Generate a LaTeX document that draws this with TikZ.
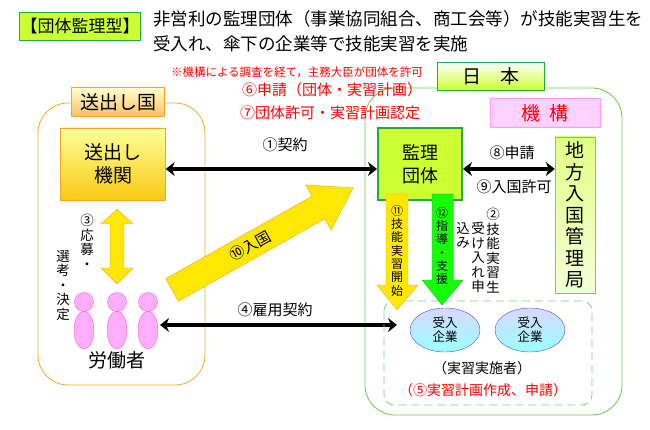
\documentclass[tikz,border=0pt]{standalone}
\usepackage{fontspec}
\setmainfont{Noto Sans CJK JP}
\usetikzlibrary{arrows.meta,shapes.geometric}
\definecolor{lime}{HTML}{CCFF33}
\definecolor{grn}{HTML}{22AA44}
\definecolor{org}{HTML}{F5A623}
\definecolor{pk}{HTML}{FF99FF}
\definecolor{rd}{HTML}{FF0000}
\begin{document}
\begin{tikzpicture}[x=1pt,y=-1pt,
  lbl/.style={font=\fontsize{15}{16}\selectfont,inner sep=0pt},
  red/.style={lbl,text=rd},
  vt/.style={font=\fontsize{13.5}{14.5}\selectfont,align=center,inner sep=0pt},
  blk/.style={line width=3.5pt,{Stealth[length=9pt,width=14pt]}-{Stealth[length=9pt,width=14pt]}},
  emp/.style={draw=blue!70,ellipse,shading=axis,top color=blue!15,bottom color=cyan!40,minimum width=70pt,minimum height=44pt,font=\fontsize{12.5}{14}\selectfont,align=center,inner sep=0pt},
  fig/.style={draw=magenta!60,fill=pk!80}]
\useasboundingbox (0,0) rectangle (650,430);
% title
\node[draw=grn,fill=lime,minimum width=118pt,minimum height=28pt,font=\fontsize{17}{18}\selectfont,inner sep=1pt] (title) at (80,26) {【団体監理型】};
\node[anchor=north west,font=\fontsize{17.5}{25}\selectfont,align=left,inner sep=0pt] (desc) at (153,10) {非営利の監理団体（事業協同組合、商工会等）が技能実習生を\\受入れ、傘下の企業等で技能実習を実施};
% regions
\draw[grn!60!lime,thick,rounded corners=30pt] (365,88) rectangle (622,415);
\draw[org,thick,rounded corners=30pt] (38,103) rectangle (205,385);
\node[draw=grn,shading=axis,top color=white,bottom color=lime,minimum width=107pt,minimum height=28pt,font=\fontsize{19}{20}\selectfont] (japan) at (491,76) {日\quad 本};
\node[draw=org,shading=axis,top color=yellow!20,bottom color=org!70,minimum width=93pt,minimum height=29pt,font=\fontsize{19}{20}\selectfont] (country) at (118,102) {送出し国};
\node[draw=pk,fill=pk!45,minimum width=110pt,minimum height=29pt,text=rd,font=\fontsize{19}{20}\selectfont] (kiko) at (545,113) {機\enspace 構};
% red notes
\node[font=\fontsize{11.5}{12}\selectfont,text=rd,inner sep=0pt] (note) at (297,72) {※機構による調査を経て，主務大臣が団体を許可};
\node[red] (n6) at (332,90) {⑥申請（団体・実習計画）};
\node[red] (n7) at (330,113) {⑦団体許可・実習計画認定};
% main boxes
\node[draw=org,shading=axis,top color=yellow!40,bottom color=org!60!yellow,minimum width=105pt,minimum height=72pt,font=\fontsize{19}{23}\selectfont,align=center] (send) at (113,164) {送出し\\機関};
\node[draw=grn,line width=2pt,fill=lime,minimum width=84pt,minimum height=72pt,font=\fontsize{18}{23}\selectfont,align=center] (kanri) at (420,164) {監理\\団体};
\node[draw=grn!50!lime,shading=axis,top color=lime!60,bottom color=lime!20,minimum width=40pt,minimum height=156pt,font=\fontsize{19}{21.5}\selectfont,align=center] (imm) at (575,215) {地\\方\\入\\国\\管\\理\\局};
% arrows 1, 8/9
\draw[blk] (send.east|-0,169) -- (kanri.west|-0,169);
\node[lbl] (l1) at (285,145) {①契約};
\draw[blk] (kanri.east|-0,169) -- (imm.west|-0,169);
\node[lbl] (l8) at (512,153) {⑧申請};
\node[lbl] (l9) at (514,187) {⑨入国許可};
% arrow 3
\fill[yellow!90!orange,draw=org] (117,209) -- (133,224) -- (124,224) -- (124,268) -- (133,268) -- (117,284) -- (101,268) -- (110,268) -- (110,224) -- (101,224) -- cycle;
\node[vt,anchor=north] (l3) at (87,214) {③\\応\\募\\・};
\node[vt,anchor=north] (l3b) at (63,250) {選\\考\\・\\決\\定};
% workers
\foreach \x/\n in {84/a,117/b,148/c}{
  \draw[fig] (\x,330) ellipse (10pt and 19pt);
  \draw[fig] (\x,302) circle (9.5pt);
}
\node[font=\fontsize{19}{20}\selectfont,inner sep=0pt] (workers) at (117,360) {労働者};
% arrow 10
\begin{scope}[shift={(172,290)},rotate=29.4]
\fill[yellow!90!orange,draw=org] (0,-13) -- (168,-13) -- (168,-26) -- (208,0) -- (168,26) -- (168,13) -- (0,13) -- cycle;
\node[font=\fontsize{15}{16}\selectfont,rotate=29.4,inner sep=0pt] (l10) at (90,0) {⑩入国};
\end{scope}
% arrow 4
\coordinate (e4) at (397,325);
\draw[blk] (160,325) -- (e4);
\node[lbl] (l4) at (275,310) {④雇用契約};
% dashed area
\draw[grn!60,dashed,thick,dash pattern=on 8pt off 5pt,rounded corners=10pt] (384,301) rectangle (592,405);
\node[emp] (c1) at (445,330) {受入\\企業};
\node[emp] (c2) at (530,330) {受入\\企業};
\node[font=\fontsize{14}{15}\selectfont,inner sep=0pt] (jisshi) at (482,368) {（実習実施者）};
\node[font=\fontsize{14}{15}\selectfont,text=rd,inner sep=0pt] (l5) at (483,390) {（⑤実習計画作成、申請）};
% arrows 11, 12
\fill[yellow!90!orange,draw=org] (386,194) -- (408,194) -- (408,285) -- (418,285) -- (397,310) -- (377,285) -- (386,285) -- cycle;
\node[vt,font=\fontsize{12}{13.3}\selectfont,anchor=north] (l11) at (397,205) {⑪\\技\\能\\実\\習\\開\\始};
\fill[green!90!lime,draw=grn] (432,194) -- (453,194) -- (453,280) -- (463,280) -- (442,305) -- (422,280) -- (432,280) -- cycle;
\node[vt,font=\fontsize{12}{13.3}\selectfont,anchor=north] (l12) at (442,207) {⑫\\指\\導\\・\\支\\援};
\node[vt,anchor=north] (l2a) at (493,208) {②\\技\\能\\実\\習\\生};
\node[vt,anchor=north] (l2b) at (478,222) {受\\け\\入\\れ\\申};
\node[vt,anchor=north] (l2c) at (463,222) {込\\み};
\end{tikzpicture}
\end{document}
